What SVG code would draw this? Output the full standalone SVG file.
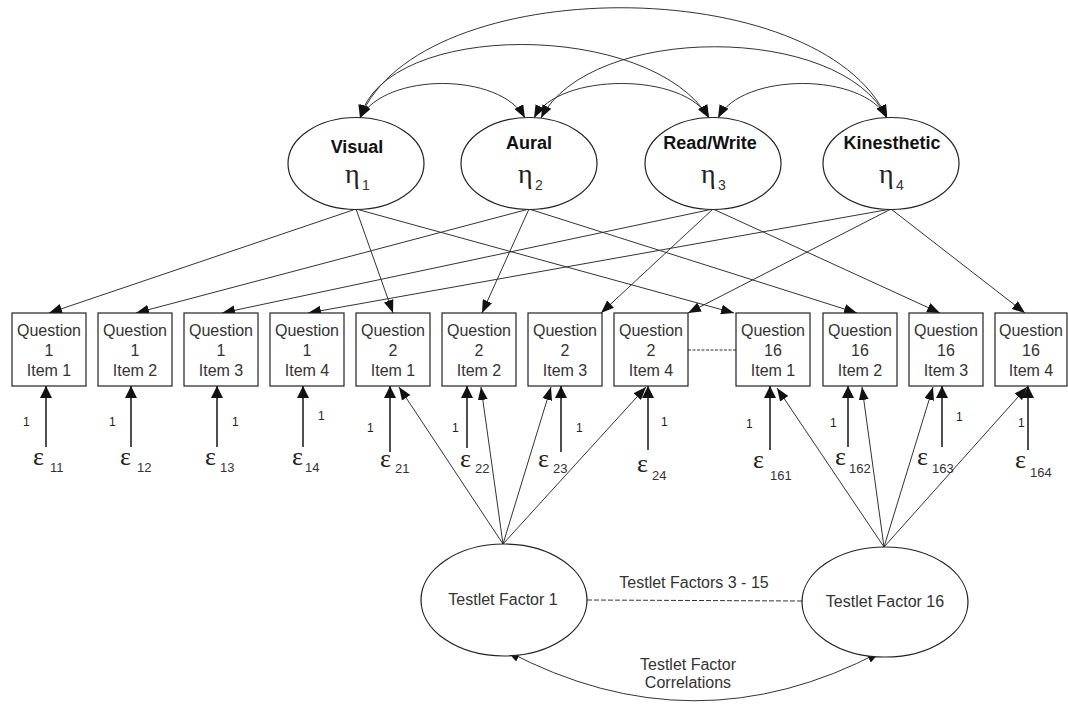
<svg xmlns="http://www.w3.org/2000/svg" width="1068" height="705" viewBox="0 0 1068 705">
  <defs>
    <marker id="ah" markerUnits="userSpaceOnUse" viewBox="0 0 13 10" markerWidth="13" markerHeight="10" refX="13" refY="5" orient="auto-start-reverse">
      <path d="M0,0 L13,5 L0,10 z" fill="#111"/>
    </marker>
    <marker id="ahe" markerUnits="userSpaceOnUse" viewBox="0 0 12 12" markerWidth="12" markerHeight="12" refX="12" refY="6" orient="auto">
      <path d="M0,0 L12,6 L0,12 z" fill="#111"/>
    </marker>
  </defs>
  <style>
    .ln { fill: none; stroke: #333; stroke-width: 1; }
    .arc { fill: none; stroke: #333; stroke-width: 1; marker-start: url(#ah); marker-end: url(#ah); }
    .ld { fill: none; stroke: #333; stroke-width: 1; marker-end: url(#ah); }
    .err { fill: none; stroke: #222; stroke-width: 1.6; marker-end: url(#ahe); }
    .dash { fill: none; stroke: #333; stroke-width: 1; stroke-dasharray: 5 2; }
    .node { fill: #fff; stroke: #222; stroke-width: 1.2; }
    .box { fill: #fff; stroke: #222; stroke-width: 1.2; }
    .bt { font-family: "Liberation Sans", Arial, sans-serif; font-size: 16px; fill: #333; text-anchor: middle; }
    .name { font-family: "Liberation Sans", Arial, sans-serif; font-size: 18px; font-weight: bold; fill: #111; text-anchor: middle; }
    .eta { font-family: "Liberation Serif", "Times New Roman", serif; font-size: 28px; fill: #222; }
    .eps { font-family: "Liberation Serif", "Times New Roman", serif; font-size: 26px; fill: #222; }
    .sub { font-family: "Liberation Sans", Arial, sans-serif; font-size: 13px; fill: #333; }
    .one { font-family: "Liberation Sans", Arial, sans-serif; font-size: 12px; fill: #222; }
    .lab { font-family: "Liberation Sans", Arial, sans-serif; font-size: 16px; fill: #333; text-anchor: middle; }
  </style>

  <!-- connectors -->
  <g id="connectors">
    <!-- correlations among the learning-style factors -->
    <path class="arc" d="M360 118 C385 72 500 72 525 118"/>
    <path class="arc" d="M534 118 C558 72 685 72 709 118"/>
    <path class="arc" d="M718 118 C742 72 863 72 887 118"/>
    <path class="arc" d="M360 118 C385 20 650 20 709 118"/>
    <path class="arc" d="M541 118 C590 23 840 23 887 118"/>
    <path class="arc" d="M360 118 C420 -29 820 -29 887 118"/>

    <!-- loadings: Visual -->
    <line class="ld" x1="356" y1="209" x2="49" y2="313"/>
    <line class="ld" x1="356" y1="209" x2="393" y2="313"/>
    <line class="ld" x1="356" y1="209" x2="734" y2="313"/>
    <!-- loadings: Aural -->
    <line class="ld" x1="529" y1="209" x2="136" y2="313"/>
    <line class="ld" x1="529" y1="209" x2="482" y2="313"/>
    <line class="ld" x1="529" y1="209" x2="857" y2="313"/>
    <!-- loadings: Read/Write -->
    <line class="ld" x1="713" y1="209" x2="222" y2="313"/>
    <line class="ld" x1="713" y1="209" x2="601" y2="313"/>
    <line class="ld" x1="713" y1="209" x2="940" y2="313"/>
    <!-- loadings: Kinesthetic -->
    <line class="ld" x1="891" y1="209" x2="308" y2="313"/>
    <line class="ld" x1="891" y1="209" x2="688" y2="313"/>
    <line class="ld" x1="891" y1="209" x2="1025" y2="313"/>

    <!-- testlet factor 1 -->
    <line class="ld" x1="503" y1="544" x2="399" y2="387"/>
    <line class="ld" x1="503" y1="544" x2="481" y2="387"/>
    <line class="ld" x1="503" y1="544" x2="551" y2="387"/>
    <line class="ld" x1="503" y1="544" x2="646" y2="387"/>
    <!-- testlet factor 16 -->
    <line class="ld" x1="884" y1="547" x2="777" y2="388"/>
    <line class="ld" x1="884" y1="547" x2="862" y2="387"/>
    <line class="ld" x1="884" y1="547" x2="933" y2="387"/>
    <line class="ld" x1="884" y1="547" x2="1027" y2="387"/>

    <!-- error terms -->
    <line class="err" x1="46" y1="447" x2="46" y2="386"/>
    <line class="err" x1="131" y1="447" x2="131" y2="386"/>
    <line class="err" x1="217" y1="447" x2="217" y2="386"/>
    <line class="err" x1="303" y1="447" x2="303" y2="386"/>
    <line class="err" x1="390" y1="452" x2="390" y2="386"/>
    <line class="err" x1="467" y1="448" x2="467" y2="386"/>
    <line class="err" x1="561" y1="452" x2="561" y2="386"/>
    <line class="err" x1="648" y1="450" x2="648" y2="386"/>
    <line class="err" x1="770" y1="450" x2="770" y2="386"/>
    <line class="err" x1="848" y1="447" x2="848" y2="386"/>
    <line class="err" x1="942" y1="447" x2="942" y2="386"/>
    <line class="err" x1="1028" y1="450" x2="1028" y2="386"/>

    <!-- fixed error loadings -->
    <text class="one" x="23" y="426">1</text>
    <text class="one" x="109" y="426">1</text>
    <text class="one" x="232" y="426">1</text>
    <text class="one" x="318" y="420">1</text>
    <text class="one" x="367" y="432">1</text>
    <text class="one" x="452" y="432">1</text>
    <text class="one" x="576" y="432">1</text>
    <text class="one" x="661" y="426">1</text>
    <text class="one" x="746" y="428">1</text>
    <text class="one" x="830" y="427">1</text>
    <text class="one" x="956" y="421">1</text>
    <text class="one" x="1018" y="427">1</text>

    <!-- omitted questions 3 - 15 -->
    <line class="dash" x1="688" y1="350" x2="736" y2="350" style="stroke-dasharray:3 1.5"/>
    <line class="dash" x1="587" y1="600" x2="802" y2="601"/>
    <text class="lab" x="694" y="588">Testlet Factors 3 - 15</text>

    <!-- testlet factor correlations -->
    <path class="arc" d="M507 651 Q694 750 880 652"/>
    <text class="lab" x="688" y="670">Testlet Factor</text>
    <text class="lab" x="688" y="688">Correlations</text>
  </g>

  <!-- learning-style factors -->
  <g id="visual">
    <ellipse class="node" cx="356" cy="163.5" rx="68" ry="46"/>
    <text class="name" x="357" y="153">Visual</text>
    <text class="eta" x="345" y="183">η<tspan class="sub" x="362" y="190" style="font-size:14px">1</tspan></text>
  </g>
  <g id="aural">
    <ellipse class="node" cx="529" cy="163.5" rx="68" ry="46"/>
    <text class="name" x="529" y="149">Aural</text>
    <text class="eta" x="518" y="183">η<tspan class="sub" x="535" y="190" style="font-size:14px">2</tspan></text>
  </g>
  <g id="readwrite">
    <ellipse class="node" cx="713" cy="163.5" rx="68" ry="46"/>
    <text class="name" x="710" y="149">Read/Write</text>
    <text class="eta" x="701" y="183">η<tspan class="sub" x="718" y="190" style="font-size:14px">3</tspan></text>
  </g>
  <g id="kinesthetic">
    <ellipse class="node" cx="891" cy="163.5" rx="68" ry="46"/>
    <text class="name" x="892" y="149">Kinesthetic</text>
    <text class="eta" x="879" y="183">η<tspan class="sub" x="896" y="190" style="font-size:14px">4</tspan></text>
  </g>

  <!-- observed items -->
  <g id="q1i1"><rect class="box" x="12" y="313" width="74" height="73"/>
    <text class="bt" x="49" y="336">Question</text><text class="bt" x="49" y="356">1</text><text class="bt" x="49" y="376">Item 1</text></g>
  <g id="q1i2"><rect class="box" x="98" y="313" width="74" height="73"/>
    <text class="bt" x="135" y="336">Question</text><text class="bt" x="135" y="356">1</text><text class="bt" x="135" y="376">Item 2</text></g>
  <g id="q1i3"><rect class="box" x="184" y="313" width="74" height="73"/>
    <text class="bt" x="221" y="336">Question</text><text class="bt" x="221" y="356">1</text><text class="bt" x="221" y="376">Item 3</text></g>
  <g id="q1i4"><rect class="box" x="270" y="313" width="74" height="73"/>
    <text class="bt" x="307" y="336">Question</text><text class="bt" x="307" y="356">1</text><text class="bt" x="307" y="376">Item 4</text></g>
  <g id="q2i1"><rect class="box" x="356" y="313" width="74" height="73"/>
    <text class="bt" x="393" y="336">Question</text><text class="bt" x="393" y="356">2</text><text class="bt" x="393" y="376">Item 1</text></g>
  <g id="q2i2"><rect class="box" x="442" y="313" width="74" height="73"/>
    <text class="bt" x="479" y="336">Question</text><text class="bt" x="479" y="356">2</text><text class="bt" x="479" y="376">Item 2</text></g>
  <g id="q2i3"><rect class="box" x="528" y="313" width="74" height="73"/>
    <text class="bt" x="565" y="336">Question</text><text class="bt" x="565" y="356">2</text><text class="bt" x="565" y="376">Item 3</text></g>
  <g id="q2i4"><rect class="box" x="614" y="313" width="74" height="73"/>
    <text class="bt" x="651" y="336">Question</text><text class="bt" x="651" y="356">2</text><text class="bt" x="651" y="376">Item 4</text></g>
  <g id="q16i1"><rect class="box" x="736" y="313" width="74" height="73"/>
    <text class="bt" x="773" y="336">Question</text><text class="bt" x="773" y="356">16</text><text class="bt" x="773" y="376">Item 1</text></g>
  <g id="q16i2"><rect class="box" x="823" y="313" width="74" height="73"/>
    <text class="bt" x="860" y="336">Question</text><text class="bt" x="860" y="356">16</text><text class="bt" x="860" y="376">Item 2</text></g>
  <g id="q16i3"><rect class="box" x="909" y="313" width="74" height="73"/>
    <text class="bt" x="946" y="336">Question</text><text class="bt" x="946" y="356">16</text><text class="bt" x="946" y="376">Item 3</text></g>
  <g id="q16i4"><rect class="box" x="995" y="313" width="72" height="73"/>
    <text class="bt" x="1031" y="336">Question</text><text class="bt" x="1031" y="356">16</text><text class="bt" x="1031" y="376">Item 4</text></g>

  <!-- residuals -->
  <g id="e11"><text class="eps" x="33" y="465">ε<tspan class="sub" x="50" y="472">11</tspan></text></g>
  <g id="e12"><text class="eps" x="120" y="465">ε<tspan class="sub" x="137" y="472">12</tspan></text></g>
  <g id="e13"><text class="eps" x="205" y="465">ε<tspan class="sub" x="220" y="472">13</tspan></text></g>
  <g id="e14"><text class="eps" x="292" y="465">ε<tspan class="sub" x="305" y="472">14</tspan></text></g>
  <g id="e21"><text class="eps" x="380" y="467">ε<tspan class="sub" x="395" y="473">21</tspan></text></g>
  <g id="e22"><text class="eps" x="460" y="467">ε<tspan class="sub" x="475" y="473">22</tspan></text></g>
  <g id="e23"><text class="eps" x="538" y="467">ε<tspan class="sub" x="553" y="473">23</tspan></text></g>
  <g id="e24"><text class="eps" x="637" y="472">ε<tspan class="sub" x="652" y="480">24</tspan></text></g>
  <g id="e161"><text class="eps" x="753" y="468">ε<tspan class="sub" x="770" y="480">161</tspan></text></g>
  <g id="e162"><text class="eps" x="835" y="465">ε<tspan class="sub" x="849" y="473">162</tspan></text></g>
  <g id="e163"><text class="eps" x="917" y="465">ε<tspan class="sub" x="932" y="473">163</tspan></text></g>
  <g id="e164"><text class="eps" x="1015" y="468">ε<tspan class="sub" x="1030" y="477">164</tspan></text></g>

  <!-- testlet factors -->
  <g id="testlet1">
    <ellipse class="node" cx="504" cy="600" rx="83" ry="56"/>
    <text class="lab" x="503" y="605">Testlet Factor 1</text>
  </g>
  <g id="testlet16">
    <ellipse class="node" cx="885" cy="602" rx="83" ry="55"/>
    <text class="lab" x="885" y="607">Testlet Factor 16</text>
  </g>
</svg>
